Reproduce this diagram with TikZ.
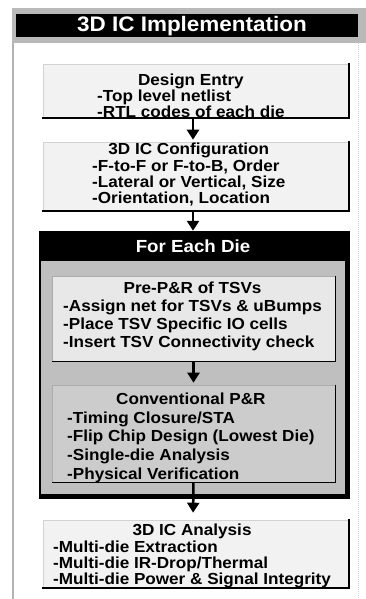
\documentclass[tikz,border=0pt]{standalone}
\usepackage{fontspec}
\setmainfont{Liberation Sans}[FakeStretch=1.07]
\usepackage{tikz}
\usetikzlibrary{arrows.meta, positioning}

\begin{document}
\begin{tikzpicture}[x=1pt, y=-1pt,
    every node/.style={font=\bfseries\fontsize{16}{15.7}\selectfont},
    lightbox/.style={fill=gray!10, draw=gray!35, line width=0.6pt, minimum width=306pt},
    innerbox/.style={draw=gray!65, line width=0.6pt, minimum width=283pt},
    shadowline/.style={line width=2pt, line cap=rect},
    flow/.style={line width=2.5pt, shorten >=2pt, -{Triangle[width=12pt,length=10pt]}},
    list/.style={inner sep=0pt, anchor=west}]

    \useasboundingbox (0,0) rectangle (366,599);

    % outer frame
    \draw[gray!60, line width=2pt] (13,40) -- (13,599);
    \draw[gray!35, densely dotted, line width=1pt] (358,43) -- (358,599);

    % title bar
    \fill[gray!55] (12,8) rectangle (366,43);
    \fill[black] (16,14) rectangle (358,37);
    \node[text=white, font=\bfseries\fontsize{21}{21}\selectfont] (title) at (192,26) {3D IC Implementation};

    % Design Entry
    \node[lightbox, minimum height=54pt] (entry) at (196,91) {};
    \draw[shadowline] (entry.north east) |- (entry.south west);
    \node[list] (entrytxt) at (97,98) {\begin{tabular}{@{}l@{}}\multicolumn{1}{c}{Design Entry}\\
        -Top level netlist\\-RTL codes of each die\end{tabular}};

    % 3D IC Configuration
    \node[lightbox, minimum height=69pt] (config) at (196,176.5) {};
    \draw[shadowline] (config.north east) |- (config.south west);
    \node[list] (configtxt) at (92,176) {\begin{tabular}{@{}l@{}}\multicolumn{1}{c}{3D IC Configuration}\\
        -F-to-F or F-to-B, Order\\-Lateral or Vertical, Size\\-Orientation, Location\end{tabular}};

    % For Each Die
    \node[fill=gray!50, draw=black, line width=2.5pt, minimum width=306pt, minimum height=263pt] (eachdie) at (193,363.5) {};
    \draw[line width=4.5pt] (eachdie.north east) |- (eachdie.south west);
    \node[fill=black, text=white, minimum width=306pt, minimum height=30pt, anchor=north,
        font=\bfseries\fontsize{17.5}{18}\selectfont] (diehead) at (eachdie.north) {For Each Die};

    % Pre-P&R of TSVs
    \node[innerbox, fill=gray!18, minimum height=85pt] (prepr) at (193.5,318.5) {};
    \draw[line width=1.3pt] (prepr.north east) |- (prepr.south west);
    \node[list, font=\bfseries\fontsize{16}{17.7}\selectfont] (preprtxt) at (63,317) {\begin{tabular}{@{}l@{}}\multicolumn{1}{c}{Pre-P\&R of TSVs}\\
        -Assign net for TSVs \& uBumps\\-Place TSV Specific IO cells\\-Insert TSV Connectivity check\end{tabular}};

    % Conventional P&R
    \node[innerbox, fill=gray!40, minimum height=97pt] (convpr) at (193.5,433.5) {};
    \draw[line width=1.3pt] (convpr.north east) |- (convpr.south west);
    \node[list, font=\bfseries\fontsize{16}{18.7}\selectfont] (convprtxt) at (67,438) {\begin{tabular}{@{}l@{}}\multicolumn{1}{c}{Conventional P\&R}\\
        -Timing Closure/STA\\-Flip Chip Design (Lowest Die)\\-Single-die Analysis\\-Physical Verification\end{tabular}};

    % 3D IC Analysis
    \node[lightbox, minimum height=68pt] (analysis) at (196,554) {};
    \draw[shadowline] (analysis.north east) |- (analysis.south west);
    \node[list] (analysistxt) at (53,557) {\begin{tabular}{@{}l@{}}\multicolumn{1}{c}{3D IC Analysis}\\
        -Multi-die Extraction\\-Multi-die IR-Drop/Thermal\\-Multi-die Power \& Signal Integrity\end{tabular}};

    % arrows
    \draw[flow] ([xshift=-3pt]entry.south) -- ([xshift=-3pt]config.north);
    \draw[flow, shorten >=0pt] ([xshift=-3pt]config.south) -- (diehead.north);
    \draw[flow] (prepr.south) -- (convpr.north);
    \draw[flow, shorten >=7pt] (convpr.south) -- ([xshift=-3pt]analysis.north);

\end{tikzpicture}
\end{document}
